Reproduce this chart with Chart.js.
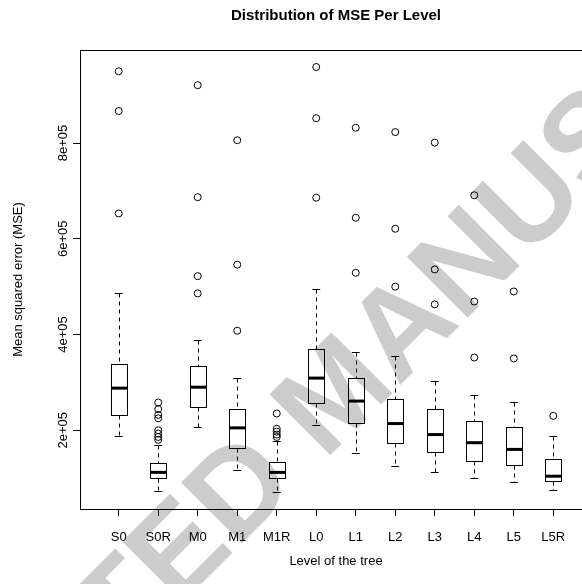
<!DOCTYPE html>
<html>
<head>
<meta charset="utf-8">
<script src="https://cdn.jsdelivr.net/npm/chart.js@4"></script>
<style>
  html, body { margin: 0; padding: 0; background: #fff; overflow: hidden; }
  body { width: 582px; height: 584px; }
  canvas { display: block; }
</style>
</head>
<body>
<canvas id="mseChart" width="672" height="584"></canvas>
<script>
// values
const levels = ['S0', 'S0R', 'M0', 'M1', 'M1R', 'L0', 'L1', 'L2', 'L3', 'L4', 'L5', 'L5R'];
const whiskerLow  = [188000,  73000, 207000, 117000,  71000, 212000, 153000, 125000, 113000, 100000,  91000,  76000];
const q1          = [232000, 101000, 248000, 162000, 100000, 256000, 216000, 174000, 155000, 135000, 127000,  95000];
const median      = [288000, 112000, 290000, 205000, 112000, 309000, 261000, 214000, 191000, 174000, 160000, 104000];
const q3          = [339000, 132000, 334000, 245000, 133000, 369000, 310000, 265000, 244000, 220000, 207000, 140000];
const whiskerHigh = [486000, 170000, 389000, 310000, 177000, 496000, 363000, 355000, 303000, 274000, 260000, 188000];
const outliers = [
  [950000, 867000, 653000],
  [258000, 244000, 232000, 225000, 200000, 193000, 186000, 180000],
  [921000, 687000, 522000, 486000],
  [806000, 546000, 408000],
  [235000, 203000, 197000, 191000, 186000],
  [959000, 852000, 686000],
  [832000, 644000, 529000],
  [823000, 621000, 500000],
  [801000, 536000, 463000],
  [691000, 469000, 352000],
  [490000, 350000],
  [230000]
];
const yTicks = [200000, 400000, 600000, 800000];

const FONT = '"Liberation Sans", Arial, Helvetica, sans-serif';
Chart.defaults.font.family = FONT;
Chart.defaults.font.size = 13;
Chart.defaults.color = '#000';

// R style axis range: data range plus 4% each side
const allVals = whiskerLow.concat(whiskerHigh, outliers.flat());
const dMin = Math.min(...allVals), dMax = Math.max(...allVals);
const pad = (dMax - dMin) * 0.04;

function rExp(v) {
  const [m, e] = v.toExponential().split('e');
  return m + 'e' + e[0] + e.slice(1).padStart(2, '0');
}

const watermark = {
  id: 'watermark',
  beforeDraw(chart) {
    const ctx = chart.ctx;
    ctx.save();
    ctx.translate(332, 390);
    ctx.rotate(-45 * Math.PI / 180);
    ctx.font = 'bold 125px ' + FONT;
    ctx.fillStyle = '#cccccc';
    ctx.textAlign = 'center';
    ctx.textBaseline = 'alphabetic';
    ctx.fillText('ACCEPTED MANUSCRIPT', 0, 125 * 0.358);
    ctx.restore();
  }
};

const boxes = {
  id: 'boxes',
  afterDatasetsDraw(chart) {
    const { ctx, scales: { x, y } } = chart;
    ctx.save();
    ctx.strokeStyle = '#000';
    levels.forEach((lv, i) => {
      const c = i + 1;
      const xm = Math.round(x.getPixelForValue(c)) + 0.5;
      const xl = Math.round(x.getPixelForValue(c - 0.2)) + 0.5;
      const xr = Math.round(x.getPixelForValue(c + 0.2)) + 0.5;
      const sl = x.getPixelForValue(c - 0.1);
      const sr = x.getPixelForValue(c + 0.1);
      const yLo = Math.round(y.getPixelForValue(whiskerLow[i])) + 0.5;
      const yHi = Math.round(y.getPixelForValue(whiskerHigh[i])) + 0.5;
      const y1 = Math.round(y.getPixelForValue(q1[i])) + 0.5;
      const y3 = Math.round(y.getPixelForValue(q3[i])) + 0.5;
      const ym = y.getPixelForValue(median[i]);

      ctx.lineWidth = 1;
      ctx.setLineDash([4, 4]);
      ctx.beginPath();
      ctx.moveTo(xm, yHi); ctx.lineTo(xm, y3);
      ctx.moveTo(xm, y1); ctx.lineTo(xm, yLo);
      ctx.stroke();
      ctx.setLineDash([]);

      ctx.beginPath();
      ctx.moveTo(sl, yHi); ctx.lineTo(sr, yHi);
      ctx.moveTo(sl, yLo); ctx.lineTo(sr, yLo);
      ctx.stroke();

      ctx.strokeRect(xl, y3, xr - xl, y1 - y3);

      ctx.lineWidth = 3;
      ctx.beginPath();
      ctx.moveTo(xl, ym); ctx.lineTo(xr, ym);
      ctx.stroke();
    });
    ctx.restore();
  },
  afterDraw(chart) {
    const { ctx, chartArea: a, scales: { y } } = chart;
    ctx.save();
    // plot frame
    ctx.strokeStyle = '#000';
    ctx.lineWidth = 1;
    ctx.strokeRect(Math.round(a.left) + 0.5, Math.round(a.top) + 0.5, a.right - a.left, a.bottom - a.top);
    // rotated y tick labels
    ctx.font = '13px ' + FONT;
    ctx.fillStyle = '#000';
    ctx.textAlign = 'center';
    ctx.textBaseline = 'alphabetic';
    yTicks.forEach(v => {
      ctx.save();
      ctx.translate(67, y.getPixelForValue(v));
      ctx.rotate(-Math.PI / 2);
      ctx.fillText(rExp(v), 0, 0);
      ctx.restore();
    });
    // main title, centred over the plot region
    ctx.font = 'bold 15px ' + FONT;
    ctx.textBaseline = 'middle';
    ctx.fillText('Distribution of MSE Per Level', (a.left + a.right) / 2, 16);
    ctx.restore();
  }
};

new Chart(document.getElementById('mseChart'), {
  type: 'scatter',
  data: {
    datasets: [{
      label: 'Outliers',
      data: outliers.flatMap((arr, i) => arr.map(v => ({ x: i + 1, y: v }))),
      pointRadius: 3.5,
      pointHoverRadius: 3.5,
      pointBorderWidth: 1,
      pointBorderColor: '#000',
      pointBackgroundColor: 'rgba(0,0,0,0)'
    }]
  },
  options: {
    responsive: false,
    animation: false,
    layout: { padding: { top: 50, right: 80, left: 0, bottom: 0 } },
    plugins: {
      legend: { display: false },
      tooltip: { enabled: false },
      title: { display: false }
    },
    scales: {
      x: {
        type: 'linear',
        min: 0.02,
        max: 12.98,
        afterBuildTicks: s => { s.ticks = levels.map((l, i) => ({ value: i + 1 })); },
        afterFit: s => { s.height = 75; },
        ticks: {
          autoSkip: false,
          maxRotation: 0,
          padding: 14,
          callback: v => levels[v - 1]
        },
        grid: { drawOnChartArea: false, drawTicks: true, tickLength: 7, color: '#000', lineWidth: 1 },
        border: { display: true, color: '#000', width: 1 },
        title: { display: true, text: 'Level of the tree', padding: { top: 0, bottom: 15 }, font: { size: 13 } }
      },
      y: {
        type: 'linear',
        min: dMin - pad,
        max: dMax + pad,
        afterBuildTicks: s => { s.ticks = yTicks.map(v => ({ value: v })); },
        afterFit: s => { s.width = 80; },
        ticks: { display: false },
        grid: { drawOnChartArea: false, drawTicks: true, tickLength: 7, color: '#000', lineWidth: 1 },
        border: { display: true, color: '#000', width: 1 },
        title: { display: true, text: 'Mean squared error (MSE)', padding: { top: 11, bottom: 0 }, font: { size: 13 } }
      }
    }
  },
  plugins: [watermark, boxes]
});
</script>
</body>
</html>
